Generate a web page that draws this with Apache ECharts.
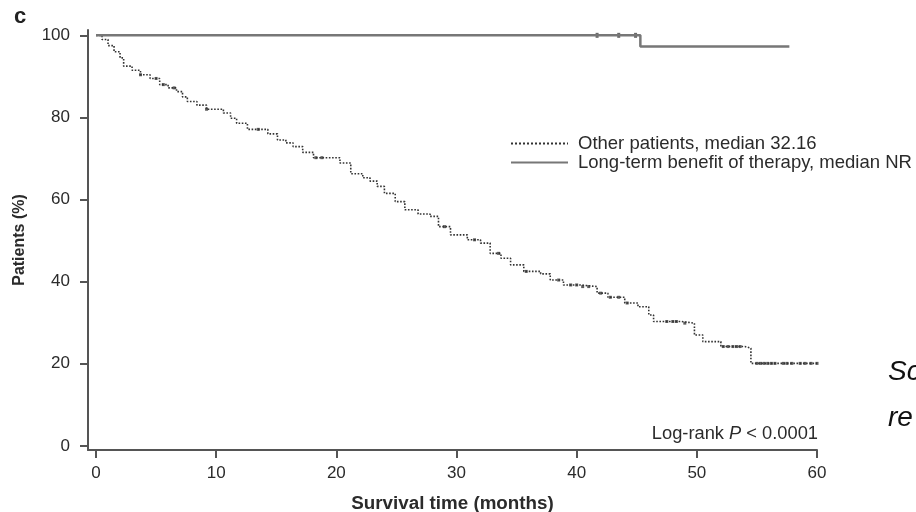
<!DOCTYPE html>
<html>
<head>
<meta charset="utf-8">
<title>Survival curves</title>
<script src="https://cdn.jsdelivr.net/npm/echarts@6.0.0/dist/echarts.min.js"></script>
<style>
  html, body { margin: 0; padding: 0; background: #fff; }
  #chart { width: 916px; height: 512px; }
</style>
</head>
<body>
<div id="chart"></div>
<script>
// ---- data ----
// other patients (KM steps: time in months, survival %)
const otherTimes = [0, 0.5, 1, 1.5, 2, 2.3, 3, 3.7, 4.5, 5.3, 6, 6.7, 7.2, 7.6, 8.4, 9.2, 10.6, 11.2, 11.7, 12.6,
  14.3, 15.1, 15.8, 16.4, 17.2, 18.1, 20.3, 21.2, 22.2, 22.8, 23.4, 24, 24.9, 25.7, 26.8, 27.8, 28.5, 29.5,
  30.9, 32, 32.8, 33.7, 34.5, 35.6, 37, 37.8, 38.9, 40.3, 41.7, 42.6, 44, 45.1, 46, 46.4, 48.7, 49.8, 50.5,
  52, 54, 54.5, 60]
const otherSurv = [100, 99, 97.5, 96, 94.5, 92.5, 91.5, 90.4, 89.5, 88, 87.2, 86.3, 85, 83.9, 83, 82, 81.1, 79.8, 78.6, 77.1,
  76, 74.5, 73.8, 72.9, 71.5, 70.2, 68.9, 66.3, 65.3, 64.5, 63.2, 61.5, 59.5, 57.5, 56.5, 55.9, 53.4, 51.4,
  50.2, 49.4, 46.9, 45.7, 44.1, 42.5, 41.9, 40.4, 39.2, 38.8, 37.2, 36.2, 34.8, 33.9, 31.9, 30.3, 29.9, 27, 25.4,
  24.2, 23.8, 20.1, 20.1]
const otherCensor = [3.7, 5, 5.6, 6.5, 9.2, 13.5, 18.3, 18.8, 29, 31.5, 33.5, 35.8, 38.5, 39.5, 40, 40.5, 41,
  42, 42.8, 43.5, 44.2, 47.5, 48, 48.3, 49, 52.2, 52.6, 53, 53.3, 53.6,
  55, 55.3, 55.6, 55.9, 56.2, 56.5, 57.2, 57.5, 57.9, 58.6, 59, 59.5, 60]

// long-term benefit of therapy
const benefitTimes = [0, 45.3, 57.7]
const benefitSurv = [100, 97.3, 97.3]
const benefitCensor = [41.7, 43.5, 44.9]

// axis ticks
const xTicks = [0, 10, 20, 30, 40, 50, 60]
const yTicks = [0, 20, 40, 60, 80, 100]

const seriesNames = ['Other patients, median 32.16', 'Long-term benefit of therapy, median NR']

// ---- helpers ----
const FONT = '"Liberation Sans", Arial, sans-serif'

const toPairs = (xs, ys) => xs.map((x, i) => [x, ys[i]])

// survival value at time t from step data
const survAt = (xs, ys, t) => {
  let v = ys[0]
  for (let i = 0; i < xs.length; i++) {
    if (xs[i] <= t) v = ys[i]
  }
  return v
}

const censorPoints = (cs, xs, ys) => cs.map(t => [t, survAt(xs, ys, t)])

const chart = echarts.init(document.getElementById('chart'))

const axisColor = '#555'
const textColor = '#2b2b2b'

chart.setOption({
  backgroundColor: '#fff',
  animation: false,
  title: {
    text: 'c',
    left: 9,
    top: 1,
    textStyle: { fontFamily: FONT, fontSize: 22, fontWeight: 'bold', color: '#222' }
  },
  grid: { left: 88, right: 99, top: 30, bottom: 62, outerBoundsMode: 'none' },
  legend: {
    data: seriesNames,
    orient: 'vertical',
    left: 510,
    top: 134,
    itemWidth: 57,
    itemHeight: 10,
    itemGap: 0,
    padding: 0,
    itemStyle: { opacity: 0 },
    textStyle: { fontFamily: FONT, fontSize: 18.5, color: textColor, padding: [0, 0, 0, 5] }
  },
  xAxis: {
    type: 'value',
    min: -0.667,
    max: 60,
    name: 'Survival time (months)',
    nameLocation: 'middle',
    nameGap: 44,
    nameTextStyle: { fontFamily: FONT, fontSize: 18.8, fontWeight: 'bold', color: textColor },
    axisLine: { show: true, onZero: false, lineStyle: { color: axisColor, width: 2 } },
    axisTick: { show: true, customValues: xTicks, length: 8, lineStyle: { color: axisColor, width: 2 } },
    axisLabel: { customValues: xTicks, margin: 15, fontFamily: FONT, fontSize: 17, color: textColor },
    splitLine: { show: false }
  },
  yAxis: {
    type: 'value',
    min: -1,
    max: 101.3,
    name: 'Patients (%)',
    nameLocation: 'middle',
    nameRotate: 90,
    nameGap: 60,
    nameTextStyle: { fontFamily: FONT, fontSize: 16, fontWeight: 'bold', color: textColor },
    axisLine: { show: true, onZero: false, lineStyle: { color: axisColor, width: 2 } },
    axisTick: { show: true, customValues: yTicks, length: 8, lineStyle: { color: axisColor, width: 2 } },
    axisLabel: { customValues: yTicks, margin: 18, fontFamily: FONT, fontSize: 17, color: textColor },
    splitLine: { show: false }
  },
  series: [
    {
      name: seriesNames[0],
      type: 'line',
      step: 'end',
      symbol: 'none',
      data: toPairs(otherTimes, otherSurv),
      lineStyle: { color: '#333', width: 1.6, type: 'dotted' },
      itemStyle: { color: '#333' }
    },
    {
      name: seriesNames[1],
      type: 'line',
      step: 'end',
      symbol: 'none',
      data: toPairs(benefitTimes, benefitSurv),
      lineStyle: { color: '#777', width: 2.5 },
      itemStyle: { color: '#777' }
    },
    {
      name: 'other censored',
      type: 'scatter',
      symbol: 'rect',
      symbolSize: [3, 3],
      data: censorPoints(otherCensor, otherTimes, otherSurv),
      itemStyle: { color: '#333' },
      silent: true
    },
    {
      name: 'benefit censored',
      type: 'scatter',
      symbol: 'rect',
      symbolSize: [3, 5],
      data: censorPoints(benefitCensor, benefitTimes, benefitSurv),
      itemStyle: { color: '#444' },
      silent: true
    }
  ],
  graphic: [
    {
      type: 'text',
      right: 98,
      top: 425,
      style: {
        text: 'Log-rank {i|P} < 0.0001',
        fontFamily: FONT,
        fontSize: 18.3,
        fill: textColor,
        rich: { i: { fontStyle: 'italic', fontFamily: FONT, fontSize: 18.3, fill: textColor } }
      }
    },
    {
      type: 'text',
      left: 888,
      top: 358,
      style: { text: 'Sc', fontFamily: FONT, fontSize: 28, fontStyle: 'italic', fill: '#111' }
    },
    {
      type: 'text',
      left: 888,
      top: 404,
      style: { text: 're', fontFamily: FONT, fontSize: 28, fontStyle: 'italic', fill: '#111' }
    }
  ]
})
</script>
</body>
</html>
